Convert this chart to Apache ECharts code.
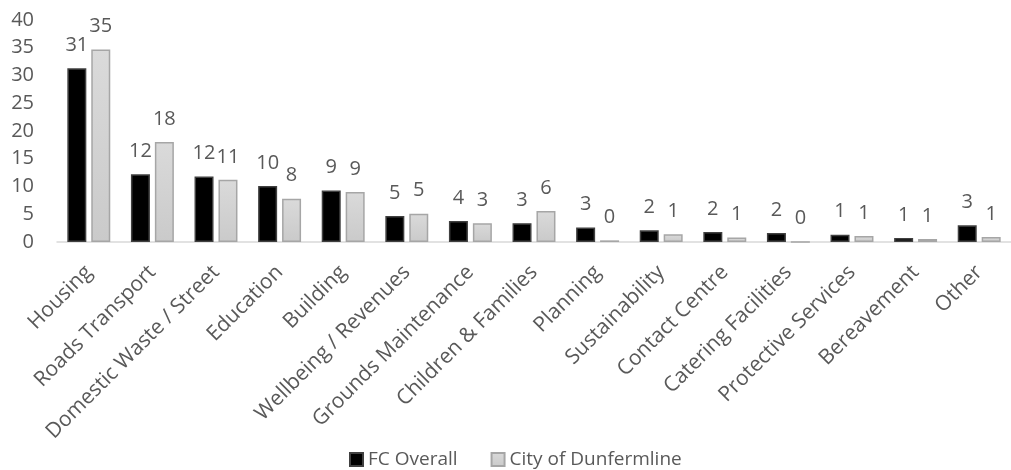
<!DOCTYPE html>
<html>
<head>
<meta charset="utf-8">
<script src="https://cdn.jsdelivr.net/npm/echarts@6/dist/echarts.min.js"></script>
<style>
  html, body { margin: 0; padding: 0; background: #ffffff; }
  #chart { width: 1011px; height: 470px; }
</style>
</head>
<body>
<div id="chart"></div>
<script>
// Complaint counts by service area
const categories = [
  'Housing', 'Roads Transport', 'Domestic Waste / Street', 'Education', 'Building',
  'Wellbeing / Revenues', 'Grounds Maintenance', 'Children & Families', 'Planning',
  'Sustainability', 'Contact Centre', 'Catering Facilities', 'Protective Services',
  'Bereavement', 'Other'
];
const fcOverall = [31.3, 12.2, 11.8, 10.1, 9.3, 4.7, 3.8, 3.4, 2.6, 2.1, 1.8, 1.6, 1.3, 0.7, 3.0];
const cityOfDunfermline = [34.7, 18.0, 11.2, 7.8, 9.0, 5.1, 3.4, 5.6, 0.3, 1.4, 0.8, 0, 1.1, 0.55, 0.9];
const seriesNames = ['FC Overall', 'City of Dunfermline'];
const yTicks = { min: 0, max: 40, interval: 5 };

const textColor = '#595959';
const fontFamily = '"Open Sans", sans-serif';

const chart = echarts.init(document.getElementById('chart'), null, { renderer: 'canvas' });

const valueLabel = {
  show: true,
  position: 'top',
  distance: 13,
  color: textColor,
  fontFamily: fontFamily,
  fontSize: 20,
  formatter: p => Math.round(p.value)
};

chart.setOption({
  animation: false,
  backgroundColor: '#ffffff',
  textStyle: { fontFamily: fontFamily },
  grid: { left: 57, top: 20, width: 963, height: 222, containLabel: false },
  legend: {
    left: 344,
    top: 445,
    itemWidth: 13,
    itemHeight: 13,
    itemGap: 33,
    icon: 'rect',
    textStyle: { color: textColor, fontSize: 19, fontFamily: fontFamily, padding: [0, 0, 0, 0] },
    data: seriesNames
  },
  xAxis: {
    type: 'category',
    data: categories,
    axisLine: { show: true, lineStyle: { color: '#d9d9d9', width: 1.5 } },
    axisTick: { show: false },
    axisLabel: {
      rotate: 45,
      interval: 0,
      margin: 27,
      padding: [0, 0, 0, 0],
      color: textColor,
      fontSize: 21,
      fontFamily: fontFamily
    },
    splitLine: { show: false }
  },
  yAxis: {
    type: 'value',
    min: yTicks.min,
    max: yTicks.max,
    interval: yTicks.interval,
    axisLine: { show: false },
    axisTick: { show: false },
    splitLine: { show: false },
    axisLabel: { margin: 23, color: textColor, fontSize: 20, fontFamily: fontFamily }
  },
  series: [
    {
      name: seriesNames[0],
      type: 'bar',
      data: fcOverall,
      barWidth: 19,
      barGap: '26%',
      itemStyle: { color: '#000000', borderColor: '#404040', borderWidth: 1.5 },
      label: valueLabel
    },
    {
      name: seriesNames[1],
      type: 'bar',
      data: cityOfDunfermline,
      barWidth: 19,
      barGap: '26%',
      itemStyle: {
        color: new echarts.graphic.LinearGradient(0, 0, 0, 1, [
          { offset: 0, color: '#dadada' },
          { offset: 1, color: '#cacaca' }
        ]),
        borderColor: '#a6a6a6',
        borderWidth: 1.5
      },
      label: valueLabel
    }
  ]
});
</script>
</body>
</html>
